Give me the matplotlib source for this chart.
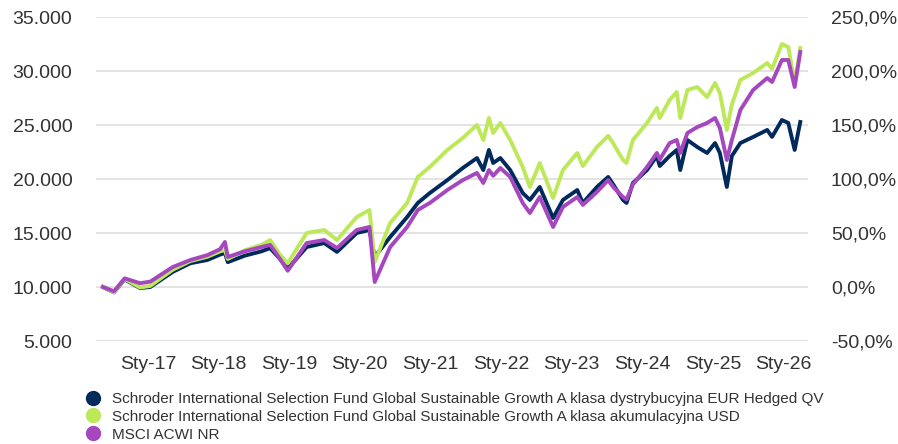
import matplotlib
matplotlib.use("Agg")
import matplotlib.pyplot as plt
import matplotlib.dates as mdates
from matplotlib.lines import Line2D
import pandas as pd

plt.rcParams['font.family'] = ['Liberation Sans', 'DejaVu Sans']

# Values (growth of 10.000)
DATES = ["2016-05-12", "2016-07-08", "2016-09-01", "2016-11-20", "2017-01-12",
         "2017-05-08", "2017-08-07", "2017-11-03", "2018-01-08", "2018-02-02",
         "2018-02-17", "2018-05-15", "2018-08-10", "2018-09-24", "2018-11-14",
         "2018-12-24", "2019-04-01", "2019-07-01", "2019-09-05", "2019-12-16",
         "2020-02-20", "2020-03-18", "2020-06-06", "2020-09-02", "2020-10-27",
         "2020-12-28", "2021-03-29", "2021-06-17", "2021-08-29", "2021-10-01",
         "2021-10-30", "2021-11-21", "2021-12-28", "2022-02-17", "2022-04-23",
         "2022-05-30", "2022-07-20", "2022-09-27", "2022-11-17", "2023-01-30",
         "2023-02-28", "2023-05-12", "2023-07-09", "2023-08-04", "2023-09-24",
         "2023-10-12", "2023-11-14", "2024-01-26", "2024-03-17", "2024-04-01",
         "2024-05-22", "2024-06-28", "2024-07-16", "2024-08-22", "2024-10-12",
         "2024-12-02", "2025-01-12", "2025-02-06", "2025-03-14", "2025-04-09",
         "2025-05-23", "2025-07-28", "2025-10-09", "2025-11-03", "2025-12-24",
         "2026-01-26", "2026-02-28", "2026-03-29"]

EUR_HEDGED = [10000, 9500, 10700, 9900, 10000,
              11400, 12200, 12500, 13000, 13150,
              12300, 12900, 13300, 13600, 12600,
              11700, 13700, 14070, 13250, 15000,
              15280, 12780, 14630, 16480, 17780,
              18700, 19900, 21020, 21940, 20830,
              22690, 21480, 21940, 20830, 18700,
              18060, 19260, 16390, 18060, 18980,
              17780, 19260, 20190, 19500, 18060,
              17780, 19630, 20830, 22130, 21200,
              22130, 22690, 20830, 23610, 22960,
              22410, 23330, 22410, 19260, 22130,
              23330, 23890, 24540, 23900, 25460,
              25190, 22690, 25280]

USD_ACC = [10000, 9500, 10750, 9950, 10100,
           11600, 12400, 12800, 13300, 13430,
           12600, 13400, 13900, 14350, 13000,
           12200, 15000, 15280, 14350, 16480,
           17130, 12300, 15930, 17780, 20190,
           21110, 22690, 23800, 25000, 23610,
           25650, 24260, 25190, 23610, 21110,
           19260, 21480, 18240, 20830, 22410,
           21200, 22960, 24000, 23300, 21760,
           21480, 23610, 25190, 26580, 25650,
           27320, 28060, 25650, 28240, 28520,
           27590, 28890, 27960, 24540, 26900,
           29170, 29810, 30740, 30200, 32500,
           32220, 28890, 32130]

MSCI_ACWI = [10000, 9600, 10800, 10350, 10500,
             11850, 12500, 12950, 13500, 14170,
             12780, 13300, 13700, 13900, 12600,
             11500, 14070, 14350, 13600, 15280,
             15560, 10460, 13700, 15560, 17130,
             17780, 18980, 19900, 20560, 19630,
             20830, 20300, 21020, 20190, 17780,
             16850, 18330, 15560, 17410, 18330,
             17600, 18800, 19900, 19260, 18330,
             18100, 19500, 21110, 22410, 21800,
             23330, 23610, 22410, 24260, 24810,
             25190, 25650, 24720, 21760, 23610,
             26390, 28240, 29350, 28980, 31020,
             31020, 28520, 31760]

LABELS = ["Schroder International Selection Fund Global Sustainable Growth A klasa dystrybucyjna EUR Hedged QV",
          "Schroder International Selection Fund Global Sustainable Growth A klasa akumulacyjna USD",
          "MSCI ACWI NR"]
COLORS = ["#002a5c", "#bde85a", "#a547bf"]

dates = pd.to_datetime(DATES)
TEXT = "#333333"

fig = plt.figure(figsize=(8.98, 4.44), dpi=100)
ax = fig.add_axes([96 / 898, 1 - 341 / 444, 712 / 898, 324 / 444])

for vals, col in zip([EUR_HEDGED, USD_ACC, MSCI_ACWI], COLORS):
    ax.plot(dates, vals, color=col, lw=2.8, solid_joinstyle='round', zorder=3)

ax.set_ylim(5000, 35000)
ax.set_yticks(range(5000, 35001, 5000))
ax.set_yticklabels([f"{v:,}".replace(",", ".") for v in range(5000, 35001, 5000)])
ax.set_xlim(pd.Timestamp("2016-04-06"), pd.Timestamp("2026-05-08"))
ax.xaxis.set_major_locator(mdates.YearLocator(base=1, month=1, day=1))
ax.xaxis.set_major_formatter(mdates.DateFormatter("Sty-%y"))
ax.grid(axis='y', color='#e0e0e0', lw=1.3, zorder=0)
ax.tick_params(axis='y', length=0, pad=17, labelsize=14, labelcolor=TEXT)
ax.tick_params(axis='x', length=0, pad=11, labelsize=14, labelcolor=TEXT)
for s in ax.spines.values():
    s.set_visible(False)

ax2 = ax.twinx()
ax2.set_ylim(-50, 250)
ax2.set_yticks(range(-50, 251, 50))
ax2.set_yticklabels([f"{v:.1f}%".replace(".", ",") for v in range(-50, 251, 50)])
ax2.tick_params(axis='y', length=0, pad=16.5, labelsize=14, labelcolor=TEXT)
for s in ax2.spines.values():
    s.set_visible(False)

handles = [Line2D([], [], ls='none', marker='o', ms=10, color=c) for c in COLORS]
fig.legend(handles, LABELS, loc='upper left', bbox_to_anchor=(85 / 898, 1 - 392 / 444),
           frameon=False, fontsize=11, labelcolor=TEXT, handlelength=1.0,
           handletextpad=0.8, labelspacing=0.25, borderpad=0, borderaxespad=0)

fig.savefig("out.png", dpi=100)
